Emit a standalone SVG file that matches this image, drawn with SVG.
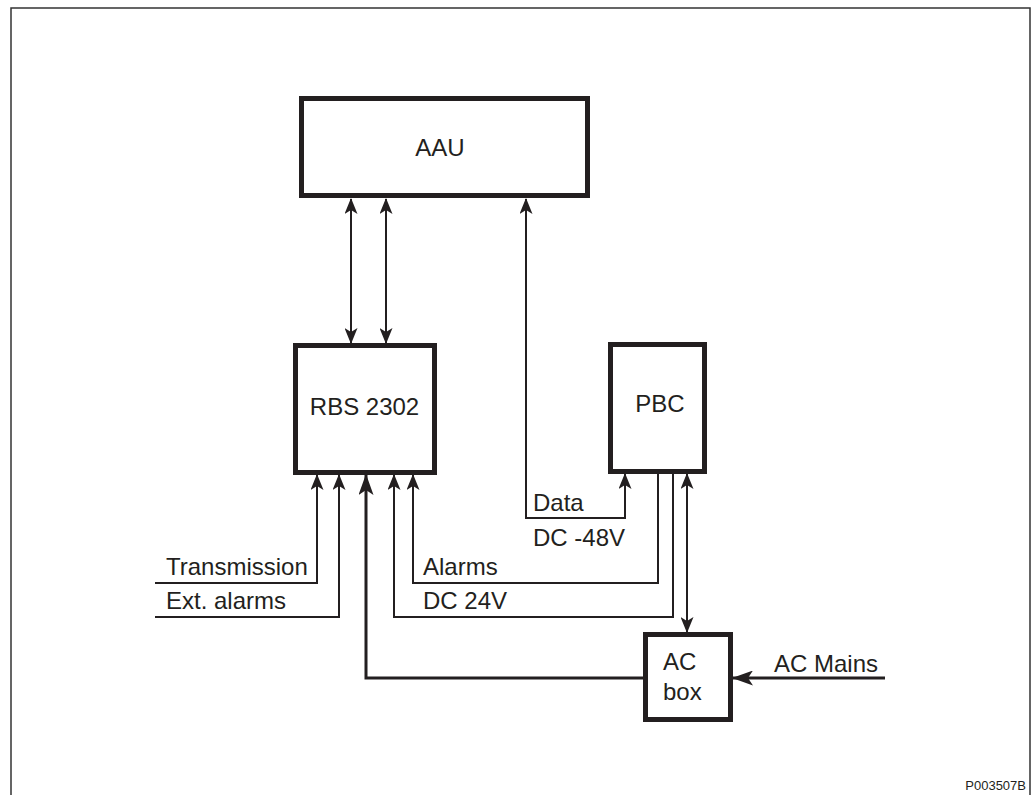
<svg xmlns="http://www.w3.org/2000/svg" width="1036" height="795" viewBox="0 0 1036 795">
<style>
.box{fill:#fff;stroke:#231f20;stroke-width:5}
.t{font-family:"Liberation Sans",Arial,sans-serif;font-size:24px;fill:#231f20}
.c{fill:none;stroke:#231f20;stroke-width:2}
.ct{fill:none;stroke:#231f20;stroke-width:3}
</style>
<defs>
<marker id="ah" viewBox="0 0 16 13" refX="15" refY="6.5" markerWidth="16" markerHeight="13" markerUnits="userSpaceOnUse" orient="auto-start-reverse">
<path d="M0,0 L16,6.5 L0,13 L4,6.5 Z" fill="#231f20"/>
</marker>
<marker id="ahb" viewBox="0 0 21 15" refX="20" refY="7.5" markerWidth="21" markerHeight="15" markerUnits="userSpaceOnUse" orient="auto-start-reverse">
<path d="M0,0 L21,7.5 L0,15 L5,7.5 Z" fill="#231f20"/>
</marker>
</defs>
<rect width="1036" height="795" fill="#fff"/>
<path d="M11,795 V8 H1030 V795" fill="none" stroke="#333" stroke-width="1.5"/>
<text x="1026" y="790" font-family="Liberation Sans,Arial,sans-serif" font-size="13" fill="#231f20" text-anchor="end">P003507B</text>

<g id="connectors">
<path class="c" d="M351,199 V343" marker-start="url(#ah)" marker-end="url(#ah)"/>
<path class="c" d="M386,199 V343" marker-start="url(#ah)" marker-end="url(#ah)"/>
<path class="c" d="M526,199 V518 H625 V474" marker-start="url(#ah)" marker-end="url(#ah)"/>
<path class="c" d="M155,583 H317 V475" marker-end="url(#ah)"/>
<path class="c" d="M155,617 H339 V475" marker-end="url(#ah)"/>
<path class="ct" d="M645,678 H366 V475" marker-end="url(#ahb)"/>
<path class="c" d="M658,473 V583 H413 V475" marker-end="url(#ah)"/>
<path class="c" d="M673,473 V617 H394 V475" marker-end="url(#ah)"/>
<path class="c" d="M687,474 V632" marker-start="url(#ah)" marker-end="url(#ah)"/>
<path class="ct" d="M885,678 H733" marker-end="url(#ahb)"/>
<text class="t" x="533" y="511">Data</text>
<text class="t" x="533" y="546">DC -48V</text>
<text class="t" x="423" y="575">Alarms</text>
<text class="t" x="423" y="609">DC 24V</text>
<text class="t" x="166" y="575">Transmission</text>
<text class="t" x="166" y="609">Ext. alarms</text>
<text class="t" x="774" y="672">AC Mains</text>
</g>

<g id="aau">
<rect class="box" x="301.5" y="98.5" width="286" height="97"/>
<text class="t" x="440" y="156" text-anchor="middle">AAU</text>
</g>
<g id="rbs">
<rect class="box" x="295.5" y="345.5" width="139" height="127"/>
<text class="t" x="364.5" y="415" text-anchor="middle">RBS 2302</text>
</g>
<g id="pbc">
<rect class="box" x="610.5" y="344.5" width="94" height="127"/>
<text class="t" x="660" y="412" text-anchor="middle">PBC</text>
</g>
<g id="acbox">
<rect class="box" x="645.5" y="634.5" width="85" height="85"/>
<text class="t" x="663" y="670">AC</text>
<text class="t" x="663" y="700">box</text>
</g>
</svg>
